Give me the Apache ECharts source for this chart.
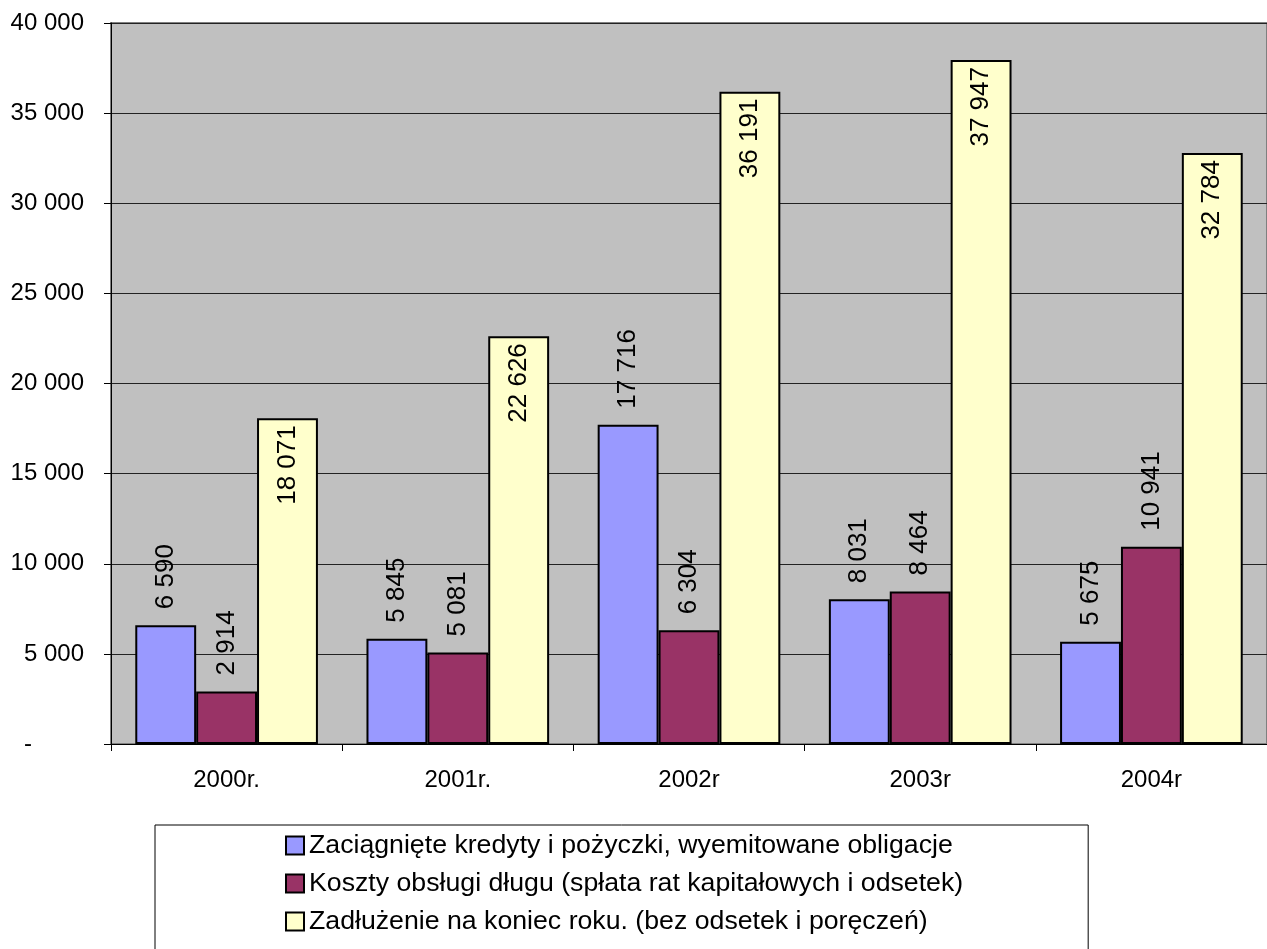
<!DOCTYPE html>
<html>
<head>
<meta charset="utf-8">
<title>Zadłużenie</title>
<script src="https://cdn.jsdelivr.net/npm/echarts@6/dist/echarts.min.js"></script>
<style>
  html, body { margin: 0; padding: 0; background: #fff; }
  #chart { width: 1267px; height: 949px; }
</style>
</head>
<body>
<div id="chart"></div>
<script>
const years = ['2000r.', '2001r.', '2002r', '2003r', '2004r']
const seriesNames = [
  'Zaciągnięte kredyty i pożyczki, wyemitowane obligacje',
  'Koszty obsługi długu (spłata rat kapitałowych i odsetek)',
  'Zadłużenie na koniec roku. (bez odsetek i poręczeń)'
]
const kredyty = [6590, 5845, 17716, 8031, 5675]
const koszty = [2914, 5081, 6304, 8464, 10941]
const zadluzenie = [18071, 22626, 36191, 37947, 32784]

const font = '"Liberation Sans", Arial, sans-serif'
const fmt = v => String(v).replace(/\B(?=(\d{3})+(?!\d))/g, ' ')

const chart = echarts.init(document.getElementById('chart'))

// etykiety nad słupkami, obrócone pionowo
const outsideLabel = {
  show: true,
  position: 'top',
  rotate: 90,
  align: 'left',
  verticalAlign: 'middle',
  distance: 16,
  fontFamily: font,
  fontSize: 26,
  color: '#000',
  formatter: p => fmt(p.value)
}

const barStyle = color => ({ color, borderColor: '#000', borderWidth: 2 })

chart.setOption({
  animation: false,
  textStyle: { fontFamily: font },
  grid: {
    left: 111,
    top: 23,
    width: 1167,
    bottom: 205,
    show: true,
    backgroundColor: '#C0C0C0',
    borderColor: '#808080',
    borderWidth: 2
  },
  legend: {
    orient: 'vertical',
    left: 155,
    top: 825,
    height: 160,
    padding: [7, 125, 30, 130],
    itemGap: 11,
    itemWidth: 18,
    itemHeight: 18,
    icon: 'rect',
    borderColor: '#000',
    borderWidth: 1,
    textStyle: { fontFamily: font, fontSize: 26.7, color: '#000', lineHeight: 26 },
    data: seriesNames
  },
  xAxis: {
    type: 'category',
    data: years,
    axisLine: { lineStyle: { color: '#000', width: 1 } },
    axisTick: { show: true, length: 7, lineStyle: { color: '#000' } },
    axisLabel: { margin: 24, fontFamily: font, fontSize: 24, color: '#000' }
  },
  yAxis: {
    type: 'value',
    min: 0,
    max: 40000,
    interval: 5000,
    axisLine: { show: true, lineStyle: { color: '#000', width: 1 } },
    axisTick: { show: true, length: 7, lineStyle: { color: '#000' } },
    splitLine: { lineStyle: { color: '#222', width: 1 } },
    axisLabel: {
      margin: 27,
      fontFamily: font,
      fontSize: 24,
      color: '#000',
      formatter: v => v === 0 ? '{d|-}' : fmt(v),
      rich: { d: { fontFamily: font, fontSize: 24, color: '#000', padding: [0, 52, 0, 0] } }
    }
  },
  series: [
    {
      name: seriesNames[0],
      type: 'bar',
      data: kredyty,
      barGap: '0%',
      barCategoryGap: '21%',
      itemStyle: barStyle('#9999FF'),
      label: outsideLabel
    },
    {
      name: seriesNames[1],
      type: 'bar',
      data: koszty,
      barGap: '0%',
      barCategoryGap: '21%',
      itemStyle: barStyle('#993366'),
      label: outsideLabel
    },
    {
      name: seriesNames[2],
      type: 'bar',
      data: zadluzenie,
      barGap: '0%',
      barCategoryGap: '21%',
      itemStyle: barStyle('#FFFFCC'),
      label: Object.assign({}, outsideLabel, {
        position: 'insideTop',
        align: 'right',
        distance: 7
      })
    }
  ]
})
</script>
</body>
</html>
